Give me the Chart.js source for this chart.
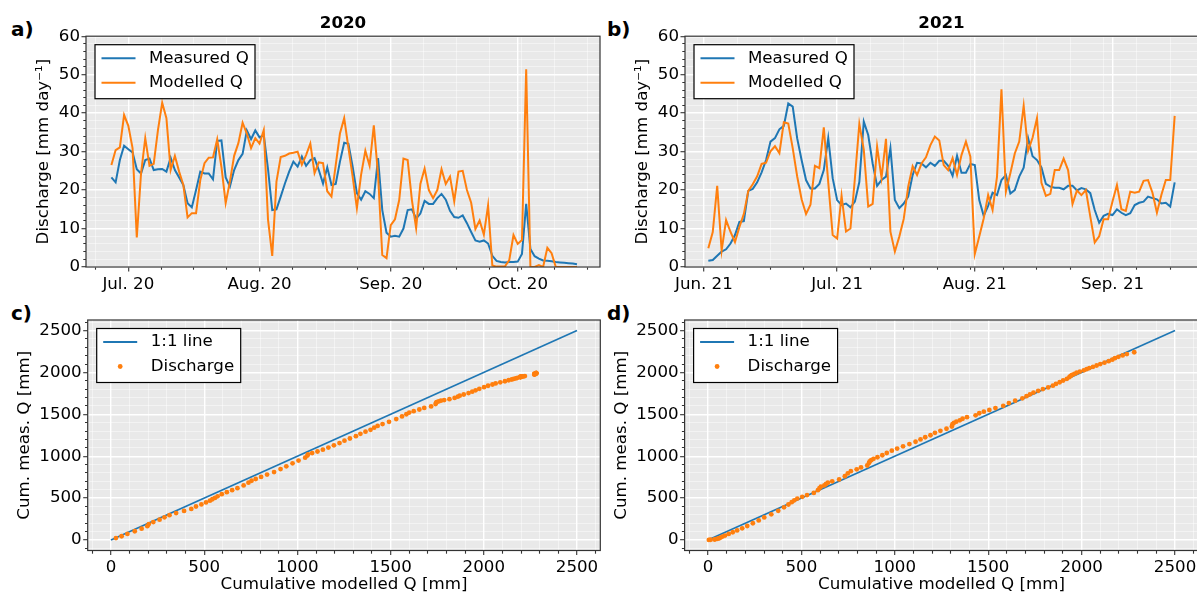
<!DOCTYPE html>
<html>
<head>
<meta charset="utf-8">
<script src="https://cdn.jsdelivr.net/npm/chart.js@4.4.1/dist/chart.umd.min.js"></script>
<style>
  html, body { margin: 0; padding: 0; background: #fff; overflow: hidden; }
  body { width: 1197px; height: 594px; position: relative; }
  canvas { position: absolute; }
  .tag { position: absolute; font: bold 20px "DejaVu Sans", sans-serif; line-height: 20px; color: #000; }
</style>
</head>
<body>
<div class="tag" style="left:11px;top:19px">a)</div>
<div class="tag" style="left:607px;top:19px">b)</div>
<div class="tag" style="left:11px;top:303px">c)</div>
<div class="tag" style="left:607px;top:303px">d)</div>
<canvas id="chartA" width="612" height="297" style="left:0;top:0"></canvas>
<canvas id="chartB" width="600" height="297" style="left:612px;top:0"></canvas>
<canvas id="chartC" width="612" height="297" style="left:0;top:297px"></canvas>
<canvas id="chartD" width="600" height="297" style="left:612px;top:297px"></canvas>
<script>
// ---- daily discharge [mm/day], x = days after 1 June ----
const firstDay2020 = 26;   // 27 Jun 2020
const measured2020 = [23.3, 22.0, 27.8, 31.5, 30.6, 29.8, 25.4, 24.3, 27.8, 28.2,
  25.2, 25.4, 25.5, 24.8, 28.4, 25.2, 23.3, 21.3, 16.6, 15.5,
  20.0, 24.8, 24.3, 24.3, 22.8, 32.8, 32.9, 23.3, 20.9, 25.2,
  27.8, 29.4, 35.5, 33.2, 35.5, 33.7, 34.3, 25.5, 14.8, 15.0,
  18.3, 21.7, 24.8, 27.4, 26.1, 28.7, 26.3, 27.8, 28.3, 25.2,
  21.7, 25.9, 21.3, 21.6, 27.4, 32.3, 32.0, 26.1, 19.2, 17.5,
  19.7, 19.0, 17.9, 28.3, 14.8, 8.9, 7.9, 8.1, 7.9, 10.0,
  14.8, 15.0, 12.6, 13.9, 17.2, 16.4, 16.4, 17.9, 19.0, 17.5,
  14.6, 13.0, 12.8, 13.4, 11.4, 9.1, 6.9, 6.6, 6.9, 6.1,
  2.9, 1.6, 1.3, 1.2, 1.3, 1.3, 1.4, 3.4, 16.4, 4.7,
  2.8, 2.2, 1.7, 1.6, 1.5, 1.3, 1.2, 1.1, 1.0, 0.9, 0.7];
const modelled2020 = [26.5, 30.4, 31.1, 39.5, 36.7, 30.9, 7.7, 24.3, 33.5, 26.3,
  26.8, 35.6, 42.7, 38.7, 25.2, 28.9, 24.8, 21.3, 12.9, 14.0,
  14.0, 22.6, 27.0, 28.4, 28.5, 33.2, 26.0, 16.6, 22.2, 28.9,
  32.2, 37.5, 34.7, 30.9, 33.5, 32.1, 35.6, 12.4, 2.9, 22.2,
  28.6, 28.9, 29.5, 29.7, 30.0, 26.6, 29.1, 32.1, 24.4, 27.2,
  27.0, 19.7, 18.3, 26.5, 34.7, 38.7, 31.0, 23.5, 15.3, 24.0,
  30.2, 26.3, 36.8, 24.0, 3.1, 2.3, 10.9, 12.4, 17.4, 28.2,
  27.8, 17.4, 10.1, 21.6, 25.6, 20.0, 17.9, 20.0, 25.4, 21.6,
  23.5, 17.1, 24.8, 25.0, 20.0, 16.7, 9.9, 12.1, 8.4, 16.0,
  0.4, 0.1, 0.1, 0.2, 1.8, 8.3, 6.0, 7.0, 51.4, 0.0,
  0.0, 0.5, 0.0, 5.0, 3.6, 0.0, 0.0, 0.0, 0.0, 0.0, 0.0];

const firstDay2021 = 1;    // 2 Jun 2021
const measured2021 = [1.6, 1.8, 2.9, 4.0, 4.6, 6.1, 8.3, 11.7, 11.9, 19.8,
  20.3, 22.0, 24.6, 27.8, 32.6, 33.5, 35.8, 36.7, 42.5, 41.7,
  33.5, 27.8, 22.6, 20.4, 20.4, 21.6, 25.2, 33.5, 23.1, 17.4,
  16.1, 16.5, 15.5, 17.0, 22.1, 37.8, 34.3, 26.9, 21.1, 22.6,
  23.5, 30.9, 17.4, 15.3, 16.5, 18.3, 23.9, 27.1, 26.9, 25.9,
  27.1, 26.3, 27.6, 27.6, 26.3, 23.7, 28.9, 24.5, 24.5, 26.8,
  26.5, 17.4, 13.3, 15.9, 19.3, 18.7, 22.6, 23.9, 19.1, 20.0,
  23.5, 25.8, 33.5, 28.8, 27.8, 25.9, 21.6, 20.9, 20.6, 20.6,
  20.2, 21.1, 21.1, 19.9, 20.5, 20.2, 19.2, 14.8, 11.5, 13.3,
  13.8, 13.5, 15.0, 14.1, 13.5, 14.0, 16.1, 16.7, 17.0, 18.3,
  17.9, 17.6, 16.5, 16.7, 15.7, 22.0];
const modelled2021 = [4.9, 9.1, 21.1, 4.3, 12.2, 9.1, 6.5, 10.4, 13.8, 19.8,
  21.5, 23.6, 26.8, 27.1, 30.1, 31.4, 29.6, 37.6, 37.3, 30.9,
  23.6, 17.6, 13.8, 16.2, 26.3, 25.7, 36.3, 22.0, 8.3, 7.4,
  18.5, 9.2, 10.0, 23.0, 37.2, 30.5, 15.7, 16.4, 31.3, 23.2,
  33.3, 9.2, 4.0, 7.9, 12.5, 20.9, 26.2, 23.9, 26.9, 28.5,
  31.7, 33.9, 32.9, 26.5, 25.2, 28.3, 23.9, 29.1, 32.6, 28.7,
  3.4, 7.9, 12.6, 18.7, 14.8, 23.5, 46.2, 19.6, 24.4, 29.5,
  32.6, 41.9, 30.2, 33.6, 38.7, 21.9, 18.5, 19.0, 25.2, 25.2,
  28.2, 25.2, 16.4, 19.9, 18.7, 20.0, 13.1, 6.4, 8.0, 12.4,
  12.4, 17.0, 21.3, 15.0, 14.6, 19.6, 19.3, 19.6, 22.4, 22.6,
  19.3, 14.1, 18.7, 22.6, 22.6, 39.3];

// ---- cumulative discharge [mm] (panels c, d) ----
const cumModelled2020 = [26.5, 56.9, 88.0, 127.5, 164.2, 195.1, 202.8, 227.1, 260.6, 286.9,
  313.7, 349.3, 392.0, 430.7, 455.9, 484.8, 509.6, 530.9, 543.8, 557.8,
  571.8, 594.4, 621.4, 649.8, 678.3, 711.5, 737.5, 754.1, 776.3, 805.2,
  837.4, 874.9, 909.6, 940.5, 974.0, 1006.1, 1041.7, 1054.1, 1057.0, 1079.2,
  1107.8, 1136.7, 1166.2, 1195.9, 1225.9, 1252.5, 1281.6, 1313.7, 1338.1, 1365.3,
  1392.3, 1412.0, 1430.3, 1456.8, 1491.5, 1530.2, 1561.2, 1584.7, 1600.0, 1624.0,
  1654.2, 1680.5, 1717.3, 1741.3, 1744.4, 1746.7, 1757.6, 1770.0, 1787.4, 1815.6,
  1843.4, 1860.8, 1870.9, 1892.5, 1918.1, 1938.1, 1956.0, 1976.0, 2001.4, 2023.0,
  2046.5, 2063.6, 2088.4, 2113.4, 2133.4, 2150.1, 2160.0, 2172.1, 2180.5, 2196.5,
  2196.9, 2197.0, 2197.1, 2197.3, 2199.1, 2207.4, 2213.4, 2220.4, 2271.8, 2271.8,
  2271.8, 2272.3, 2272.3, 2277.3, 2280.9, 2280.9, 2280.9, 2280.9, 2280.9, 2280.9, 2280.9];
const cumMeasured2020 = [23.3, 45.3, 73.1, 104.6, 135.2, 165.0, 190.4, 214.7, 242.5, 270.7,
  295.9, 321.3, 346.8, 371.6, 400.0, 425.2, 448.5, 469.8, 486.4, 501.9,
  521.9, 546.7, 571.0, 595.3, 618.1, 650.9, 683.8, 707.1, 728.0, 753.2,
  781.0, 810.4, 845.9, 879.1, 914.6, 948.3, 982.6, 1008.1, 1022.9, 1037.9,
  1056.2, 1077.9, 1102.7, 1130.1, 1156.2, 1184.9, 1211.2, 1239.0, 1267.3, 1292.5,
  1314.2, 1340.1, 1361.4, 1383.0, 1410.4, 1442.7, 1474.7, 1500.8, 1520.0, 1537.5,
  1557.2, 1576.2, 1594.1, 1622.4, 1637.2, 1646.1, 1654.0, 1662.1, 1670.0, 1680.0,
  1694.8, 1709.8, 1722.4, 1736.3, 1753.5, 1769.9, 1786.3, 1804.2, 1823.2, 1840.7,
  1855.3, 1868.3, 1881.1, 1894.5, 1905.9, 1915.0, 1921.9, 1928.5, 1935.4, 1941.5,
  1944.4, 1946.0, 1947.3, 1948.5, 1949.8, 1951.1, 1952.5, 1955.9, 1972.3, 1977.0,
  1979.8, 1982.0, 1983.7, 1985.3, 1986.8, 1988.1, 1989.3, 1990.4, 1991.4, 1992.3, 1993.0];
const cumModelled2021 = [4.9, 14.0, 35.1, 39.4, 51.6, 60.7, 67.2, 77.6, 91.4, 111.2,
  132.7, 156.3, 183.1, 210.2, 240.3, 271.7, 301.3, 338.9, 376.2, 407.1,
  430.7, 448.3, 462.1, 478.3, 504.6, 530.3, 566.6, 588.6, 596.9, 604.3,
  622.8, 632.0, 642.0, 665.0, 702.2, 732.7, 748.4, 764.8, 796.1, 819.3,
  852.6, 861.8, 865.8, 873.7, 886.2, 907.1, 933.3, 957.2, 984.1, 1012.6,
  1044.3, 1078.2, 1111.1, 1137.6, 1162.8, 1191.1, 1215.0, 1244.1, 1276.7, 1305.4,
  1308.8, 1316.7, 1329.3, 1348.0, 1362.8, 1386.3, 1432.5, 1452.1, 1476.5, 1506.0,
  1538.6, 1580.5, 1610.7, 1644.3, 1683.0, 1704.9, 1723.4, 1742.4, 1767.6, 1792.8,
  1821.0, 1846.2, 1862.6, 1882.5, 1901.2, 1921.2, 1934.3, 1940.7, 1948.7, 1961.1,
  1973.5, 1990.5, 2011.8, 2026.8, 2041.4, 2061.0, 2080.3, 2099.9, 2122.3, 2144.9,
  2164.2, 2178.3, 2197.0, 2219.6, 2242.2, 2281.5];
const cumMeasured2021 = [1.6, 3.4, 6.3, 10.3, 14.9, 21.0, 29.3, 41.0, 52.9, 72.7,
  93.0, 115.0, 139.6, 167.4, 200.0, 233.5, 269.3, 306.0, 348.5, 390.2,
  423.7, 451.5, 474.1, 494.5, 514.9, 536.5, 561.7, 595.2, 618.3, 635.7,
  651.8, 668.3, 683.8, 700.8, 722.9, 760.7, 795.0, 821.9, 843.0, 865.6,
  889.1, 920.0, 937.4, 952.7, 969.2, 987.5, 1011.4, 1038.5, 1065.4, 1091.3,
  1118.4, 1144.7, 1172.3, 1199.9, 1226.2, 1249.9, 1278.8, 1303.3, 1327.8, 1354.6,
  1381.1, 1398.5, 1411.8, 1427.7, 1447.0, 1465.7, 1488.3, 1512.2, 1531.3, 1551.3,
  1574.8, 1600.6, 1634.1, 1662.9, 1690.7, 1716.6, 1738.2, 1759.1, 1779.7, 1800.3,
  1820.5, 1841.6, 1862.7, 1882.6, 1903.1, 1923.3, 1942.5, 1957.3, 1968.8, 1982.1,
  1995.9, 2009.4, 2024.4, 2038.5, 2052.0, 2066.0, 2082.1, 2098.8, 2115.8, 2134.1,
  2152.0, 2169.6, 2186.1, 2202.8, 2218.5, 2240.5];
const oneToOne = [0, 2500];

// ---- ticks ----
const monthTicks2020 = [30, 61, 92, 122];
const monthLabels2020 = ["Jul. 20", "Aug. 20", "Sep. 20", "Oct. 20"];
const monthTicks2021 = [0, 30, 61, 92];
const monthLabels2021 = ["Jun. 21", "Jul. 21", "Aug. 21", "Sep. 21"];
const dischargeTicks = [0, 10, 20, 30, 40, 50, 60];
const cumTicks = [0, 500, 1000, 1500, 2000, 2500];

const BLUE = "#1f77b4";
const ORANGE = "#ff7f0e";
const FONT_SIZE = 16.67;

Chart.defaults.font.family = '"DejaVu Sans", sans-serif';
Chart.defaults.font.size = FONT_SIZE;
Chart.defaults.color = "#000";

// majors + evenly spaced minors (first major interval / n), like matplotlib
function tickList(majors, minorStep, min, max) {
  const list = majors.map(v => ({ value: v, minor: false }));
  const t0 = majors[0];
  for (let k = Math.ceil((min - t0) / minorStep); t0 + k * minorStep <= max; k++) {
    const v = t0 + k * minorStep;
    if (!majors.some(m => Math.abs(m - v) < 1e-6)) list.push({ value: v, minor: true });
  }
  return list.sort((a, b) => a.value - b.value);
}

const isMinor = c => c.tick && c.tick.minor;

function makeScale(cfg) {
  const horiz = cfg.horizontal;
  return {
    type: "linear",
    position: horiz ? "bottom" : "left",
    min: cfg.min,
    max: cfg.max,
    afterBuildTicks: s => { s.ticks = tickList(cfg.majors, cfg.minorStep, cfg.min, cfg.max); },
    afterFit: s => { if (horiz) s.height = cfg.size; else s.width = cfg.size; },
    border: { display: false },
    grid: {
      color: c => isMinor(c) ? "rgba(255,255,255,0.6)" : "#ffffff",
      lineWidth: c => isMinor(c) ? 0.8 : 1.4,
      tickLength: 4.5,
      tickColor: "#333",
      tickWidth: 1.1,
      tickBorderDash: c => isMinor(c) ? (horiz ? [2.7, 20] : [0, 1.8, 2.7, 20]) : []
    },
    ticks: {
      autoSkip: false,
      maxRotation: 0,
      minRotation: 0,
      padding: horiz ? 3 : 1.5,
      color: "#000",
      callback: v => {
        const i = cfg.majors.indexOf(v);
        return i < 0 ? "" : cfg.labels[i];
      }
    },
    title: cfg.title
      ? { display: true, text: cfg.title, color: "#000", padding: cfg.titlePad }
      : { display: false }
  };
}

// background, frame and a matplotlib-like legend box
const axesDecor = {
  id: "axesDecor",
  beforeDraw(chart) {
    const a = chart.chartArea, ctx = chart.ctx;
    ctx.save();
    ctx.fillStyle = "#e9e9e9";
    ctx.fillRect(a.left, a.top, a.right - a.left, a.bottom - a.top);
    ctx.restore();
  },
  afterDatasetsDraw(chart) {
    const a = chart.chartArea, ctx = chart.ctx;
    ctx.save();
    ctx.strokeStyle = "#333";
    ctx.lineWidth = 1.2;
    ctx.strokeRect(a.left, a.top, a.right - a.left, a.bottom - a.top);
    ctx.restore();
  },
  afterDraw(chart, args, opts) {
    if (!opts.items) return;
    const a = chart.chartArea, ctx = chart.ctx;
    const x0 = a.left + 9, y0 = a.top + 8.5, w = opts.width, h = 54;
    ctx.save();
    ctx.fillStyle = "#fff";
    ctx.fillRect(x0, y0, w, h);
    ctx.strokeStyle = "#000";
    ctx.lineWidth = 1.2;
    ctx.strokeRect(x0, y0, w, h);
    ctx.font = FONT_SIZE + 'px "DejaVu Sans", sans-serif';
    ctx.textBaseline = "middle";
    opts.items.forEach((it, i) => {
      const cy = y0 + 13.5 + i * 24.5;
      if (it.dot) {
        ctx.fillStyle = it.color;
        ctx.beginPath();
        ctx.arc(x0 + 23.5, cy, 2.4, 0, Math.PI * 2);
        ctx.fill();
      } else {
        ctx.strokeStyle = it.color;
        ctx.lineWidth = 2;
        ctx.beginPath();
        ctx.moveTo(x0 + 6.5, cy);
        ctx.lineTo(x0 + 40.5, cy);
        ctx.stroke();
      }
      ctx.fillStyle = "#000";
      ctx.fillText(it.label, x0 + 54, cy);
    });
    ctx.restore();
  }
};

function daily(values, first) {
  return values.map((v, i) => ({ x: first + i, y: v }));
}

function pairs(xs, ys) {
  return xs.map((x, i) => ({ x: x, y: ys[i] }));
}

function dischargeChart(id, year, measured, modelled, first, months, monthLabels, xmin, xmax, yw, titlePad, padRight) {
  return new Chart(document.getElementById(id), {
    type: "scatter",
    data: {
      datasets: [
        { label: "Measured Q", data: daily(measured, first), showLine: true, borderColor: BLUE,
          borderWidth: 2, pointRadius: 0, order: 2 },
        { label: "Modelled Q", data: daily(modelled, first), showLine: true, borderColor: ORANGE,
          borderWidth: 2, pointRadius: 0, order: 1 }
      ]
    },
    options: {
      responsive: false,
      animation: false,
      events: [],
      layout: { padding: { left: 0, right: padRight, top: 0, bottom: 0 } },
      scales: {
        x: makeScale({ horizontal: true, min: xmin, max: xmax, majors: months, labels: monthLabels,
          minorStep: (months[1] - months[0]) / 4, size: 30 }),
        y: makeScale({ horizontal: false, min: 0, max: 60, majors: dischargeTicks,
          labels: dischargeTicks.map(String), minorStep: 2, size: yw,
          title: "Discharge [mm day\u207B\u00B9]", titlePad: { top: titlePad, bottom: 0 } })
      },
      plugins: {
        legend: { display: false },
        tooltip: { enabled: false },
        title: { display: true, text: year, fullSize: false, color: "#000",
          font: { size: FONT_SIZE, weight: "bold" }, padding: { top: 14.1, bottom: 2.1 } },
        axesDecor: { width: 160, items: [
          { label: "Measured Q", color: BLUE },
          { label: "Modelled Q", color: ORANGE }
        ] }
      }
    },
    plugins: [axesDecor]
  });
}

function cumulativeChart(id, cumModelled, cumMeasured, yw, titlePad, padRight) {
  return new Chart(document.getElementById(id), {
    type: "scatter",
    data: {
      datasets: [
        { label: "1:1 line", data: pairs(oneToOne, oneToOne), showLine: true, borderColor: BLUE,
          borderWidth: 1.7, pointRadius: 0, order: 2 },
        { label: "Discharge", data: pairs(cumModelled, cumMeasured), showLine: false,
          backgroundColor: ORANGE, borderWidth: 0, pointRadius: 2.4, order: 1 }
      ]
    },
    options: {
      responsive: false,
      animation: false,
      events: [],
      layout: { padding: { left: 0, right: padRight, top: 23, bottom: 0 } },
      scales: {
        x: makeScale({ horizontal: true, min: -125, max: 2625, majors: cumTicks,
          labels: cumTicks.map(String), minorStep: 100, size: 43.5,
          title: "Cumulative modelled Q [mm]", titlePad: { top: 0, bottom: -1 } }),
        y: makeScale({ horizontal: false, min: -125, max: 2625, majors: cumTicks,
          labels: cumTicks.map(String), minorStep: 100, size: yw,
          title: "Cum. meas. Q [mm]", titlePad: { top: titlePad, bottom: 0 } })
      },
      plugins: {
        legend: { display: false },
        tooltip: { enabled: false },
        axesDecor: { width: 144, items: [
          { label: "1:1 line", color: BLUE },
          { label: "Discharge", color: ORANGE, dot: true }
        ] }
      }
    },
    plugins: [axesDecor]
  });
}

dischargeChart("chartA", "2020", measured2020, modelled2020, firstDay2020,
  monthTicks2020, monthLabels2020, 20.0, 141.44, 86, 34.1, 12);
dischargeChart("chartB", "2021", measured2021, modelled2021, firstDay2021,
  monthTicks2021, monthLabels2021, -4.25, 111.25, 73, 21.1, 14);
cumulativeChart("chartC", cumModelled2020, cumMeasured2020, 87.7, 15.1, 11.7);
cumulativeChart("chartD", cumModelled2021, cumMeasured2021, 72.6, -0.4, 13.6);
</script>
</body>
</html>
